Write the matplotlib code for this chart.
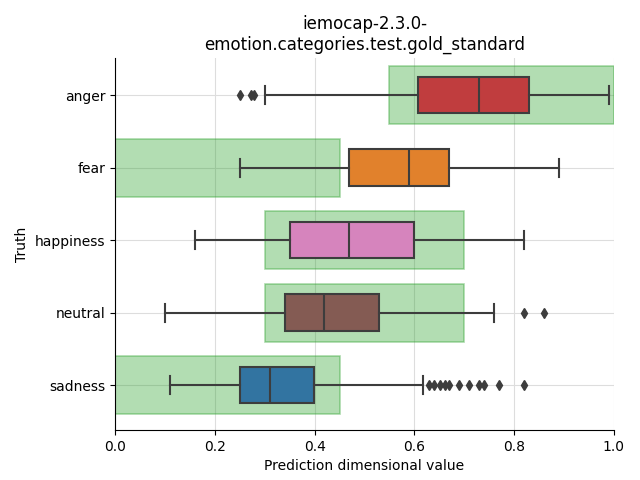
import matplotlib
matplotlib.use("Agg")
import matplotlib.pyplot as plt
import matplotlib.colors as mcolors
import colorsys

# data: box statistics
emotions = ["anger", "fear", "happiness", "neutral", "sadness"]
whislo = [0.30, 0.25, 0.16, 0.10, 0.11]
q1 = [0.607, 0.468, 0.351, 0.34, 0.25]
med = [0.729, 0.59, 0.469, 0.418, 0.31]
q3 = [0.83, 0.669, 0.599, 0.529, 0.399]
whishi = [0.99, 0.89, 0.82, 0.76, 0.618]
fliers = [
    [0.251, 0.272, 0.279],
    [],
    [],
    [0.82, 0.86],
    [0.63, 0.64, 0.651, 0.661, 0.67, 0.69, 0.71, 0.73, 0.74, 0.77, 0.82],
]
# expected range per emotion (green bands)
range_lo = [0.55, 0.0, 0.3, 0.3, 0.0]
range_hi = [1.0, 0.45, 0.7, 0.7, 0.45]

base_colors = ["tab:red", "tab:orange", "tab:pink", "tab:brown", "tab:blue"]


def desaturate(c, prop=0.75):
    h, l, s = colorsys.rgb_to_hls(*mcolors.to_rgb(c))
    return colorsys.hls_to_rgb(h, l, s * prop)


fig, ax = plt.subplots(figsize=(6.4, 4.8), dpi=100)
fig.subplots_adjust(left=0.18, right=0.959, top=0.879, bottom=0.104)

pos = list(range(len(emotions)))

ax.grid(True, color="#dddddd", linewidth=0.8, zorder=0)
ax.set_axisbelow(True)

# green bands
ax.barh(pos, [h - l for l, h in zip(range_lo, range_hi)], left=range_lo, height=0.8,
        facecolor=(0.17, 0.63, 0.17, 0.36), edgecolor=(0.17, 0.63, 0.17, 0.4),
        linewidth=1.2, zorder=1)

stats = []
for i, name in enumerate(emotions):
    stats.append(dict(label=name, whislo=whislo[i], q1=q1[i], med=med[i],
                      q3=q3[i], whishi=whishi[i], fliers=fliers[i]))

line_c = "#3d3d3d"
bp = ax.bxp(stats, positions=pos, widths=0.5, vert=False, patch_artist=True,
            boxprops=dict(edgecolor=line_c, linewidth=1.5),
            whiskerprops=dict(color=line_c, linewidth=1.5),
            capprops=dict(color=line_c, linewidth=1.5),
            medianprops=dict(color=line_c, linewidth=1.5),
            flierprops=dict(marker="d", markerfacecolor=line_c, markeredgecolor=line_c,
                            markersize=5.5, linestyle="none"),
            capwidths=0.25)
for patch, c in zip(bp["boxes"], base_colors):
    patch.set_facecolor(desaturate(c))
    patch.set_zorder(2)

ax.set_ylim(4.62, -0.51)
ax.set_xlim(0, 1)
ax.set_yticks(pos)
ax.set_yticklabels(emotions)
ax.set_xlabel("Prediction dimensional value")
ax.set_ylabel("Truth")
ax.set_title("iemocap-2.3.0-\nemotion.categories.test.gold_standard")
ax.spines["top"].set_visible(False)
ax.spines["right"].set_visible(False)

fig.savefig("out.png", dpi=100)
